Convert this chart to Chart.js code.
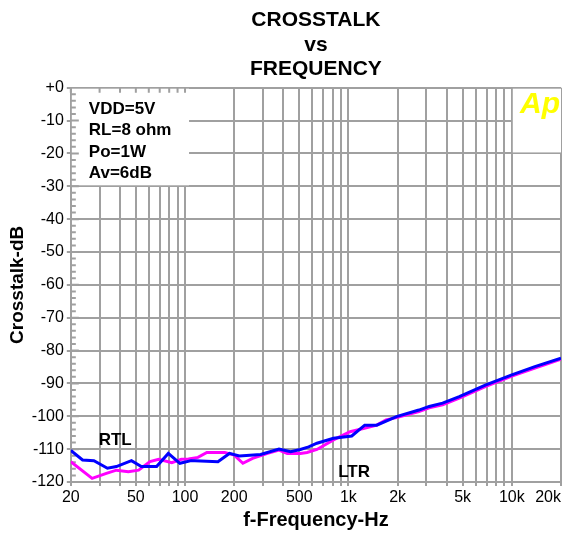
<!DOCTYPE html>
<html lang="en">
<head>
<meta charset="UTF-8">
<title>Crosstalk vs Frequency</title>
<script src="https://cdn.jsdelivr.net/npm/chart.js"></script>
<style>
  html, body { margin: 0; padding: 0; background: #fff; }
</style>
</head>
<body>
<canvas id="xtalkChart" width="562" height="533"></canvas>
<script>
// RTL trace (blue)
const rtlFreq = [20, 23.6, 27.7, 33.5, 38, 47, 54, 67, 79, 93, 109, 115, 159, 187, 215, 290, 376, 443, 508, 571, 642, 810, 1048, 1258, 1490, 1968, 2700, 3120, 3770, 4770, 6880, 10000, 13840, 20000];
const rtlDb   = [-110.4, -113.3, -113.5, -115.8, -115.3, -113.5, -115.3, -115.3, -111.3, -114.3, -113.5, -113.5, -113.8, -111.3, -112.1, -111.6, -110.0, -110.8, -110.1, -109.3, -108.2, -106.7, -106.0, -102.7, -102.7, -100.1, -98.1, -97.0, -96.0, -94.0, -90.5, -87.4, -84.9, -82.3];

// LTR trace (magenta)
const ltrFreq = [20, 27, 33, 38, 45, 52, 61, 69, 83, 95, 105, 120, 136, 175, 200, 226, 259, 320, 376, 422, 508, 558, 642, 810, 1024, 1234, 1490, 1700, 1968, 2700, 3120, 3770, 4770, 6880, 10000, 13840, 20000];
const ltrDb   = [-113.8, -118.9, -117.4, -116.4, -116.9, -116.4, -113.8, -113.1, -114.1, -113.1, -113.0, -112.5, -111.0, -111.0, -111.8, -114.3, -112.8, -111.3, -110.3, -111.3, -111.3, -111.0, -110.1, -107.2, -104.7, -103.7, -102.7, -101.1, -100.4, -98.6, -97.4, -96.5, -94.5, -91.0, -87.8, -85.3, -82.6];

// axes
const xGridValues = [20, 30, 40, 50, 60, 70, 80, 90, 100, 200, 300, 400, 500, 600, 700, 800, 900, 1000, 2000, 3000, 4000, 5000, 6000, 7000, 8000, 9000, 10000, 20000];
const xTickValues = [20, 50, 100, 200, 500, 1000, 2000, 5000, 10000, 20000];
const xTickLabels = ['20', '50', '100', '200', '500', '1k', '2k', '5k', '10k', '20k'];

const notes = ['VDD=5V', 'RL=8 ohm', 'Po=1W', 'Av=6dB'];

const gridColor = '#a0a0a0';

const toPoints = (fs, ds) => fs.map((f, i) => ({ x: f, y: ds[i] }));

// blanks the note box / logo corner and draws the small ticks
const overlay = {
    id: 'overlay',
    beforeDatasetsDraw(chart) {
        const { ctx, chartArea: a, scales: { x, y } } = chart;
        ctx.save();
        ctx.fillStyle = '#fff';
        const boxR = x.getPixelForValue(100) + 4;
        const boxB = y.getPixelForValue(-30) - 1;
        ctx.fillRect(a.left + 1, a.top + 1, boxR - a.left - 1, boxB - a.top - 1);
        const logoL = x.getPixelForValue(10000) + 1;
        ctx.fillRect(logoL, a.top + 1, a.right - logoL, y.getPixelForValue(-20) - a.top - 2);

        ctx.strokeStyle = gridColor;
        ctx.lineWidth = 2;
        ctx.beginPath();
        for (let v = -118; v < 0; v += 2) {
            const py = y.getPixelForValue(v);
            const len = v % 10 === 0 ? 8 : 5;
            ctx.moveTo(a.left, py);
            ctx.lineTo(a.left + len, py);
        }
        xGridValues.forEach(f => {
            const px = x.getPixelForValue(f);
            if (px < boxR) {
                ctx.moveTo(px, a.top);
                ctx.lineTo(px, a.top + 5);
            }
        });
        ctx.stroke();
        ctx.restore();
    },
    afterDraw(chart) {
        const { ctx, chartArea: a, scales: { x, y } } = chart;
        ctx.save();
        ctx.fillStyle = '#000';

        // x tick labels, last one kept inside the canvas
        ctx.font = '16px Arial';
        ctx.textAlign = 'center';
        ctx.textBaseline = 'middle';
        xTickValues.forEach((v, i) => {
            const w = ctx.measureText(xTickLabels[i]).width;
            let px = x.getPixelForValue(v);
            if (px + w / 2 > chart.width - 1) px = chart.width - 1 - w / 2;
            ctx.fillText(xTickLabels[i], px, a.bottom + 16);
        });

        // test conditions
        ctx.font = 'bold 17px Arial';
        ctx.textAlign = 'left';
        ctx.textBaseline = 'alphabetic';
        notes.forEach((t, i) => ctx.fillText(t, a.left + 18, a.top + 26 + i * 21.5));

        // channel labels
        ctx.font = 'bold 17px Arial';
        ctx.fillText('RTL', x.getPixelForValue(29.6), y.getPixelForValue(-108.7));
        ctx.fillText('LTR', x.getPixelForValue(865), y.getPixelForValue(-118.5));

        // Ap logo
        ctx.fillStyle = '#ffff00';
        ctx.font = 'italic bold 30px Arial';
        ctx.textAlign = 'right';
        ctx.fillText('Ap', a.right - 1, a.top + 25);
        ctx.restore();
    }
};

const ctx = document.getElementById('xtalkChart').getContext('2d');
new Chart(ctx, {
    type: 'line',
    data: {
        datasets: [{
            label: 'RTL',
            data: toPoints(rtlFreq, rtlDb),
            borderColor: '#0000ff',
            borderWidth: 3,
            pointRadius: 0,
            tension: 0
        }, {
            label: 'LTR',
            data: toPoints(ltrFreq, ltrDb),
            borderColor: '#ff00ff',
            borderWidth: 3,
            pointRadius: 0,
            tension: 0
        }]
    },
    options: {
        responsive: false,
        animation: false,
        layout: { padding: { left: 0, right: 1, top: 0, bottom: 0 } },
        plugins: {
            legend: { display: false },
            tooltip: { enabled: false },
            title: {
                display: true,
                text: ['CROSSTALK', 'vs', 'FREQUENCY'],
                color: '#000',
                fullSize: false,
                font: { family: 'Arial', size: 21, weight: 'bold', lineHeight: 1.17 },
                padding: { top: 8, bottom: 6 }
            }
        },
        scales: {
            x: {
                type: 'logarithmic',
                min: 20,
                max: 20000,
                afterBuildTicks: (scale) => {
                    scale.ticks = xGridValues.map(v => ({ value: v }));
                },
                ticks: { display: false },
                grid: { color: gridColor, lineWidth: 2, tickLength: 4 },
                border: { color: gridColor, width: 2 },
                title: {
                    display: true,
                    text: 'f-Frequency-Hz',
                    color: '#000',
                    font: { family: 'Arial', size: 20, weight: 'bold' },
                    padding: { top: 22, bottom: 1 }
                }
            },
            y: {
                min: -120,
                max: 0,
                ticks: {
                    stepSize: 10,
                    color: '#000',
                    padding: 3,
                    font: { family: 'Arial', size: 16 },
                    callback: (v) => v === 0 ? '+0' : String(v)
                },
                grid: { color: gridColor, lineWidth: 2, tickLength: 4 },
                border: { color: gridColor, width: 2 },
                title: {
                    display: true,
                    text: 'Crosstalk-dB',
                    color: '#000',
                    font: { family: 'Arial', size: 19, weight: 'bold' },
                    padding: { top: 6, bottom: 0 }
                }
            }
        }
    },
    plugins: [overlay]
});
</script>
</body>
</html>
